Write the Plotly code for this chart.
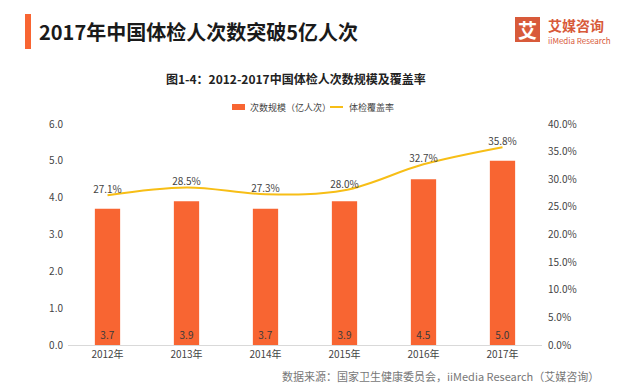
import plotly.graph_objects as go

years = ["2012年", "2013年", "2014年", "2015年", "2016年", "2017年"]
visits = [3.7, 3.9, 3.7, 3.9, 4.5, 5.0]          # 亿人次
coverage = [0.271, 0.285, 0.273, 0.280, 0.327, 0.358]
left_ticks = [0, 1, 2, 3, 4, 5, 6]
right_ticks = [0, 0.05, 0.10, 0.15, 0.20, 0.25, 0.30, 0.35, 0.40]
bar_name = "次数规模（亿人次）"
line_name = "体检覆盖率"

# the page body has an 8px margin, so the figure is drawn 8px in from the top-left
OFF = 8
W, H = 623 - OFF, 388 - OFF
PL, PR, PT, PB = 68, 542, 124, 345          # plot area in reference pixels
L, R, T, B = PL - OFF, W - (PR - OFF), PT - OFF, H - (PB - OFF)
PW, PH = PR - PL, PB - PT

def px(x):
    return (x - PL) / PW

def py(y):
    return (PB - y) / PH

FONT = "Noto Sans CJK SC"
BAR = "#F86532"
LINE = "#F7BE16"
LOGO = "#D85A3A"

fig = go.Figure()
fig.add_trace(go.Bar(
    x=years, y=visits, name=bar_name,
    marker=dict(color=BAR, line=dict(width=0)),
    text=[f"{v:.1f}" for v in visits], textposition="inside",
    insidetextanchor="start", textangle=0,
    textfont=dict(size=10, color="#3a3a3a", family=FONT),
    width=0.32,
))
fig.add_trace(go.Scatter(
    x=years, y=coverage, name=line_name, yaxis="y2",
    mode="lines+text", line=dict(color=LINE, width=2, shape="spline", smoothing=1.0),
    text=[f"{v*100:.1f}%" for v in coverage], textposition="top center",
    textfont=dict(size=10, color="#444", family=FONT),
))

fig.update_layout(
    width=W, height=H,
    margin=dict(l=L, r=R, t=T, b=B),
    paper_bgcolor="white", plot_bgcolor="white",
    font=dict(family=FONT, size=10, color="#444"),
    showlegend=False,
    xaxis=dict(showgrid=False, showline=True, linecolor="#D9D9D9", linewidth=1,
               ticks="", tickfont=dict(size=10, color="#444"), ticklabelstandoff=0),
    yaxis=dict(range=[0, 6], tickvals=left_ticks, ticktext=[f"{v:.1f}" for v in left_ticks],
               showgrid=False, zeroline=False, showline=False, ticks="",
               tickfont=dict(size=10, color="#444"), ticklabelstandoff=4),
    yaxis2=dict(range=[0, 0.4], overlaying="y", side="right", tickvals=right_ticks,
                ticktext=[f"{v*100:.1f}%" for v in right_ticks],
                showgrid=False, zeroline=False, showline=False, ticks="",
                tickfont=dict(size=10, color="#444"), ticklabelstandoff=5),
    bargap=0.68,
)

shapes = [
    # orange accent bar
    dict(type="rect", xref="paper", yref="paper", x0=px(25), x1=px(31), y0=py(49), y1=py(14),
         fillcolor="#F86532", line=dict(width=0)),
    # logo square
    dict(type="rect", xref="paper", yref="paper", x0=px(515), x1=px(540), y0=py(42), y1=py(17),
         fillcolor=LOGO, line=dict(width=0)),
    # legend swatches
    dict(type="rect", xref="paper", yref="paper", x0=px(232), x1=px(245), y0=py(110), y1=py(104),
         fillcolor=BAR, line=dict(width=0)),
    dict(type="line", xref="paper", yref="paper", x0=px(330), x1=px(343), y0=py(107), y1=py(107),
         line=dict(color=LINE, width=2)),
]
fig.update_layout(shapes=shapes)

ann = [
    dict(text="<b>2017年中国体检人次数突破5亿人次</b>", x=px(37), y=py(32), xanchor="left", yanchor="middle",
         font=dict(size=20, color="#1a1a1a", family=FONT)),
    dict(text="<b>图1-4：2012-2017中国体检人次数规模及覆盖率</b>", x=px(296), y=py(78),
         xanchor="center", yanchor="middle", font=dict(size=12, color="#222", family=FONT)),
    dict(text="<b>艾</b>", x=px(527.5), y=py(29.5), xanchor="center", yanchor="middle",
         font=dict(size=19, color="white", family=FONT)),
    dict(text="<b>艾媒咨询</b>", x=px(546), y=py(25), xanchor="left", yanchor="middle",
         font=dict(size=14, color=LOGO, family=FONT)),
    dict(text="iiMedia Research", x=px(546), y=py(40), xanchor="left", yanchor="middle",
         font=dict(size=8, color=LOGO, family=FONT)),
    dict(text=bar_name, x=px(248), y=py(107), xanchor="left", yanchor="middle",
         font=dict(size=9, color="#444", family=FONT)),
    dict(text=line_name, x=px(347), y=py(107), xanchor="left", yanchor="middle",
         font=dict(size=9, color="#444", family=FONT)),
    dict(text="数据来源：国家卫生健康委员会，iiMedia Research（艾媒咨询）", x=px(601), y=py(376),
         xanchor="right", yanchor="middle", font=dict(size=11, color="#777", family=FONT)),
]
for a in ann:
    a.update(xref="paper", yref="paper", showarrow=False)
fig.update_layout(annotations=ann)

fig.write_html("out.html")
